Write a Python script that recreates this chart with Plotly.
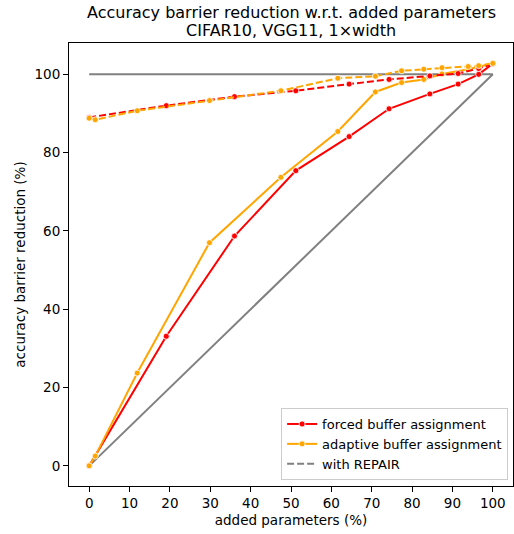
import plotly.graph_objects as go

# Added parameters (%) and accuracy-barrier reduction (%) for each buffer strategy
forced_x = [0, 19.1, 36.0, 51.2, 64.4, 74.3, 84.4, 91.4, 96.5, 100.0]
forced_y = [0, 33.1, 58.7, 75.4, 84.1, 91.2, 95.0, 97.5, 100.0, 102.7]
forced_repair_y = [89.0, 92.0, 94.3, 95.8, 97.5, 98.7, 99.6, 100.2, 101.5, 102.7]

adaptive_x = [0, 1.5, 11.9, 29.8, 47.5, 61.6, 70.9, 77.4, 82.9, 87.4, 93.9, 96.5, 100.0]
adaptive_y = [0, 2.5, 23.7, 57.0, 73.7, 85.4, 95.5, 97.9, 98.7, 100.1, 101.3, 101.9, 102.8]
adaptive_repair_y = [88.8, 88.4, 90.7, 93.3, 95.8, 99.0, 99.5, 100.9, 101.3, 101.7, 102.0, 102.2, 102.8]

# Reference lines: full barrier removal and linear parameter/benefit trade-off
ref_x = [0, 100]
full_y = [100, 100]
diag_y = [0, 100]

x_ticks = [0, 10, 20, 30, 40, 50, 60, 70, 80, 90, 100]
y_ticks = [0, 20, 40, 60, 80, 100]

title_lines = ["Accuracy barrier reduction w.r.t. added parameters",
               "CIFAR10, VGG11, 1×width"]

RED = "#ff0000"
ORANGE = "#ffa500"
GRAY = "#808080"
FONT = "DejaVu Sans"
DASH = "7px,3px"

W, H = 514, 534
M_L, M_R, M_T, M_B = 69, 1, 43, 48
PLOT_H = H - M_T - M_B

fig = go.Figure()

fig.add_trace(go.Scatter(x=ref_x, y=full_y, mode="lines",
                         line=dict(color=GRAY, width=2), showlegend=False))
fig.add_trace(go.Scatter(x=ref_x, y=diag_y, mode="lines",
                         line=dict(color=GRAY, width=2), showlegend=False))

marker_red = dict(color=RED, size=6, line=dict(color="white", width=0.8))
marker_orange = dict(color=ORANGE, size=6, line=dict(color="white", width=0.8))

fig.add_trace(go.Scatter(x=forced_x, y=forced_y, mode="lines+markers",
                         name="forced buffer assignment",
                         line=dict(color=RED, width=2), marker=marker_red))
fig.add_trace(go.Scatter(x=adaptive_x, y=adaptive_y, mode="lines+markers",
                         name="adaptive buffer assignment",
                         line=dict(color=ORANGE, width=2), marker=marker_orange))
fig.add_trace(go.Scatter(x=forced_x, y=forced_repair_y, mode="lines+markers",
                         showlegend=False,
                         line=dict(color=RED, width=2, dash=DASH), marker=marker_red))
fig.add_trace(go.Scatter(x=adaptive_x, y=adaptive_repair_y, mode="lines+markers",
                         showlegend=False,
                         line=dict(color=ORANGE, width=2, dash=DASH), marker=marker_orange))
# legend-only entry for the REPAIR style
fig.add_trace(go.Scatter(x=[None], y=[None], mode="lines", name="with REPAIR",
                         line=dict(color=GRAY, width=2, dash=DASH)))

axis_common = dict(
    showline=True, linecolor="black", linewidth=1, mirror=True,
    ticks="outside", ticklen=5, tickwidth=1, tickcolor="black",
    showgrid=False, zeroline=False,
    tickfont=dict(family=FONT, size=13.5, color="black"),
)

# two-line title placed as annotations above the axes
title_px = [13, 31]
annotations = [
    dict(text=t, x=0.5, xref="paper", xanchor="center",
         y=1 + (M_T - py) / PLOT_H, yref="paper", yanchor="middle",
         showarrow=False, font=dict(family=FONT, size=16, color="black"))
    for t, py in zip(title_lines, title_px)
]

fig.update_layout(
    width=W, height=H,
    margin=dict(l=M_L, r=M_R, t=M_T, b=M_B),
    paper_bgcolor="white", plot_bgcolor="white",
    font=dict(family=FONT, color="black"),
    annotations=annotations,
    xaxis=dict(range=[-5, 105], tickvals=x_ticks,
               title=dict(text="added parameters (%)", standoff=5,
                          font=dict(family=FONT, size=13.5, color="black")),
               **axis_common),
    yaxis=dict(range=[-5.14, 108.0], tickvals=y_ticks,
               title=dict(text="accuracy barrier reduction (%)", standoff=5,
                          font=dict(family=FONT, size=13.5, color="black")),
               **axis_common),
    legend=dict(x=0.989, y=0.0135, xanchor="right", yanchor="bottom",
                bgcolor="rgba(255,255,255,0.8)", bordercolor="#cccccc", borderwidth=1,
                font=dict(family=FONT, size=13, color="black")),
)

fig.write_html("out.html")
